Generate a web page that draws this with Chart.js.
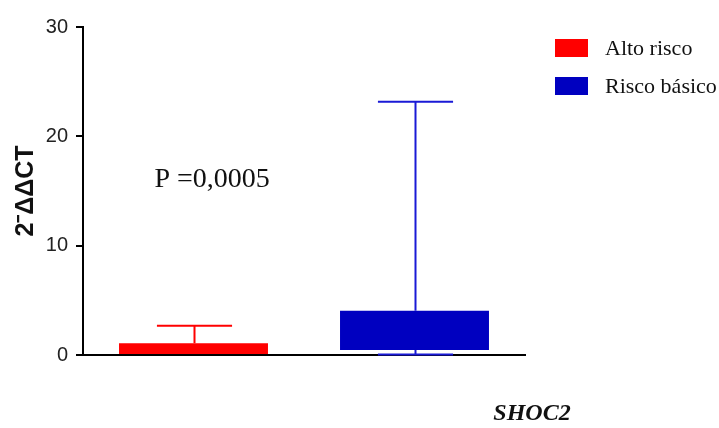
<!DOCTYPE html>
<html>
<head>
<meta charset="utf-8">
<script src="https://cdn.jsdelivr.net/npm/chart.js@4.4.0/dist/chart.umd.min.js"></script>
<style>
  html, body { margin: 0; padding: 0; background: #fff; }
</style>
</head>
<body>
<canvas id="mainChart" width="719" height="428"></canvas>
<script>
const groups = ['Alto risco', 'Risco básico'];
const colors = ['#ff0000', '#0000c0'];
const whiskerColors = ['#ff0000', '#1a1ad6'];
// box = [lower quartile, upper quartile], whiskers = min / max
const boxLow = [0, 0.46];
const boxHigh = [1.07, 4.05];
const whiskerMin = [0, 0.05];
const whiskerMax = [2.68, 23.17];
const yTicks = [0, 10, 20, 30];
const pText = 'P =0,0005';
const geneName = 'SHOC2';

function groupData(i){
    return groups.map((g, j) => j === i ? [boxLow[i], boxHigh[i]] : null);
}

// whiskers, p-value, gene label and legend
const extras = {
    id: 'extras',
    afterDatasetsDraw(chart){
        const ctx = chart.ctx;
        const x = chart.scales.x;
        const y = chart.scales.y;
        const area = chart.chartArea;
        const catW = x.getPixelForValue(1) - x.getPixelForValue(0);
        const capHalf = catW * 0.17;
        ctx.save();
        ctx.lineWidth = 2;
        for(let i = 0; i < groups.length; i++){
            const cx = Math.round(x.getPixelForValue(i)) + 0.5;
            ctx.strokeStyle = whiskerColors[i];
            ctx.beginPath();
            ctx.moveTo(cx, y.getPixelForValue(boxHigh[i]));
            ctx.lineTo(cx, y.getPixelForValue(whiskerMax[i]));
            ctx.moveTo(cx - capHalf, y.getPixelForValue(whiskerMax[i]));
            ctx.lineTo(cx + capHalf, y.getPixelForValue(whiskerMax[i]));
            if(whiskerMin[i] < boxLow[i]){
                ctx.moveTo(cx, y.getPixelForValue(boxLow[i]));
                ctx.lineTo(cx, y.getPixelForValue(whiskerMin[i]));
                ctx.moveTo(cx - capHalf, y.getPixelForValue(whiskerMin[i]));
                ctx.lineTo(cx + capHalf, y.getPixelForValue(whiskerMin[i]));
            }
            ctx.stroke();
        }

        ctx.fillStyle = '#111';
        ctx.textBaseline = 'alphabetic';
        ctx.textAlign = 'left';
        ctx.font = '28px "Liberation Serif", serif';
        ctx.fillText(pText, x.getPixelForValue(0) - 39, y.getPixelForValue(15.4));

        ctx.textAlign = 'center';
        ctx.font = 'italic bold 24px "Liberation Serif", serif';
        ctx.fillText(geneName, area.right + 7, area.bottom + 65);

        ctx.textAlign = 'left';
        ctx.textBaseline = 'middle';
        ctx.font = '22px "Liberation Serif", serif';
        chart.data.datasets.forEach((ds, i) => {
            const top = 39 + i * 38;
            ctx.fillStyle = ds.backgroundColor;
            ctx.fillRect(area.right + 30, top, 33, 18);
            ctx.fillStyle = '#111';
            ctx.fillText(ds.label, area.right + 80, top + 10);
        });
        ctx.restore();
    }
};

const ctx = document.getElementById('mainChart').getContext('2d');
const chart = new Chart(ctx, {
    type: 'bar',
    data: {
        labels: groups,
        datasets: groups.map((g, i) => ({
            label: g,
            data: groupData(i),
            backgroundColor: colors[i],
            borderWidth: 0,
            grouped: false,
            barPercentage: 0.674,
            categoryPercentage: 1
        }))
    },
    options: {
        responsive: false,
        animation: false,
        devicePixelRatio: 1,
        layout: { padding: { top: 27, right: 194, bottom: 0, left: 0 } },
        plugins: {
            legend: { display: false },
            tooltip: { enabled: false }
        },
        scales: {
            x: {
                ticks: { display: false },
                grid: { display: false },
                border: { display: true, color: '#000', width: 2 },
                afterFit(scale){ scale.height = 73; }
            },
            y: {
                min: 0,
                max: 30,
                afterBuildTicks(scale){ scale.ticks = yTicks.map(v => ({ value: v })); },
                ticks: {
                    color: '#222',
                    padding: 8,
                    font: { family: '"Liberation Sans", Arial, sans-serif', size: 20 }
                },
                grid: { display: true, drawOnChartArea: false, tickLength: 7, color: '#000', lineWidth: 2 },
                border: { display: true, color: '#000', width: 2 },
                title: {
                    display: true,
                    text: '2\u207B\u0394\u0394CT',
                    color: '#111',
                    padding: { top: 11, bottom: 0 },
                    font: { family: '"Liberation Sans", Arial, sans-serif', size: 25, weight: 'bold' }
                },
                afterFit(scale){ scale.width = 83; }
            }
        }
    },
    plugins: [extras]
});
</script>
</body>
</html>
